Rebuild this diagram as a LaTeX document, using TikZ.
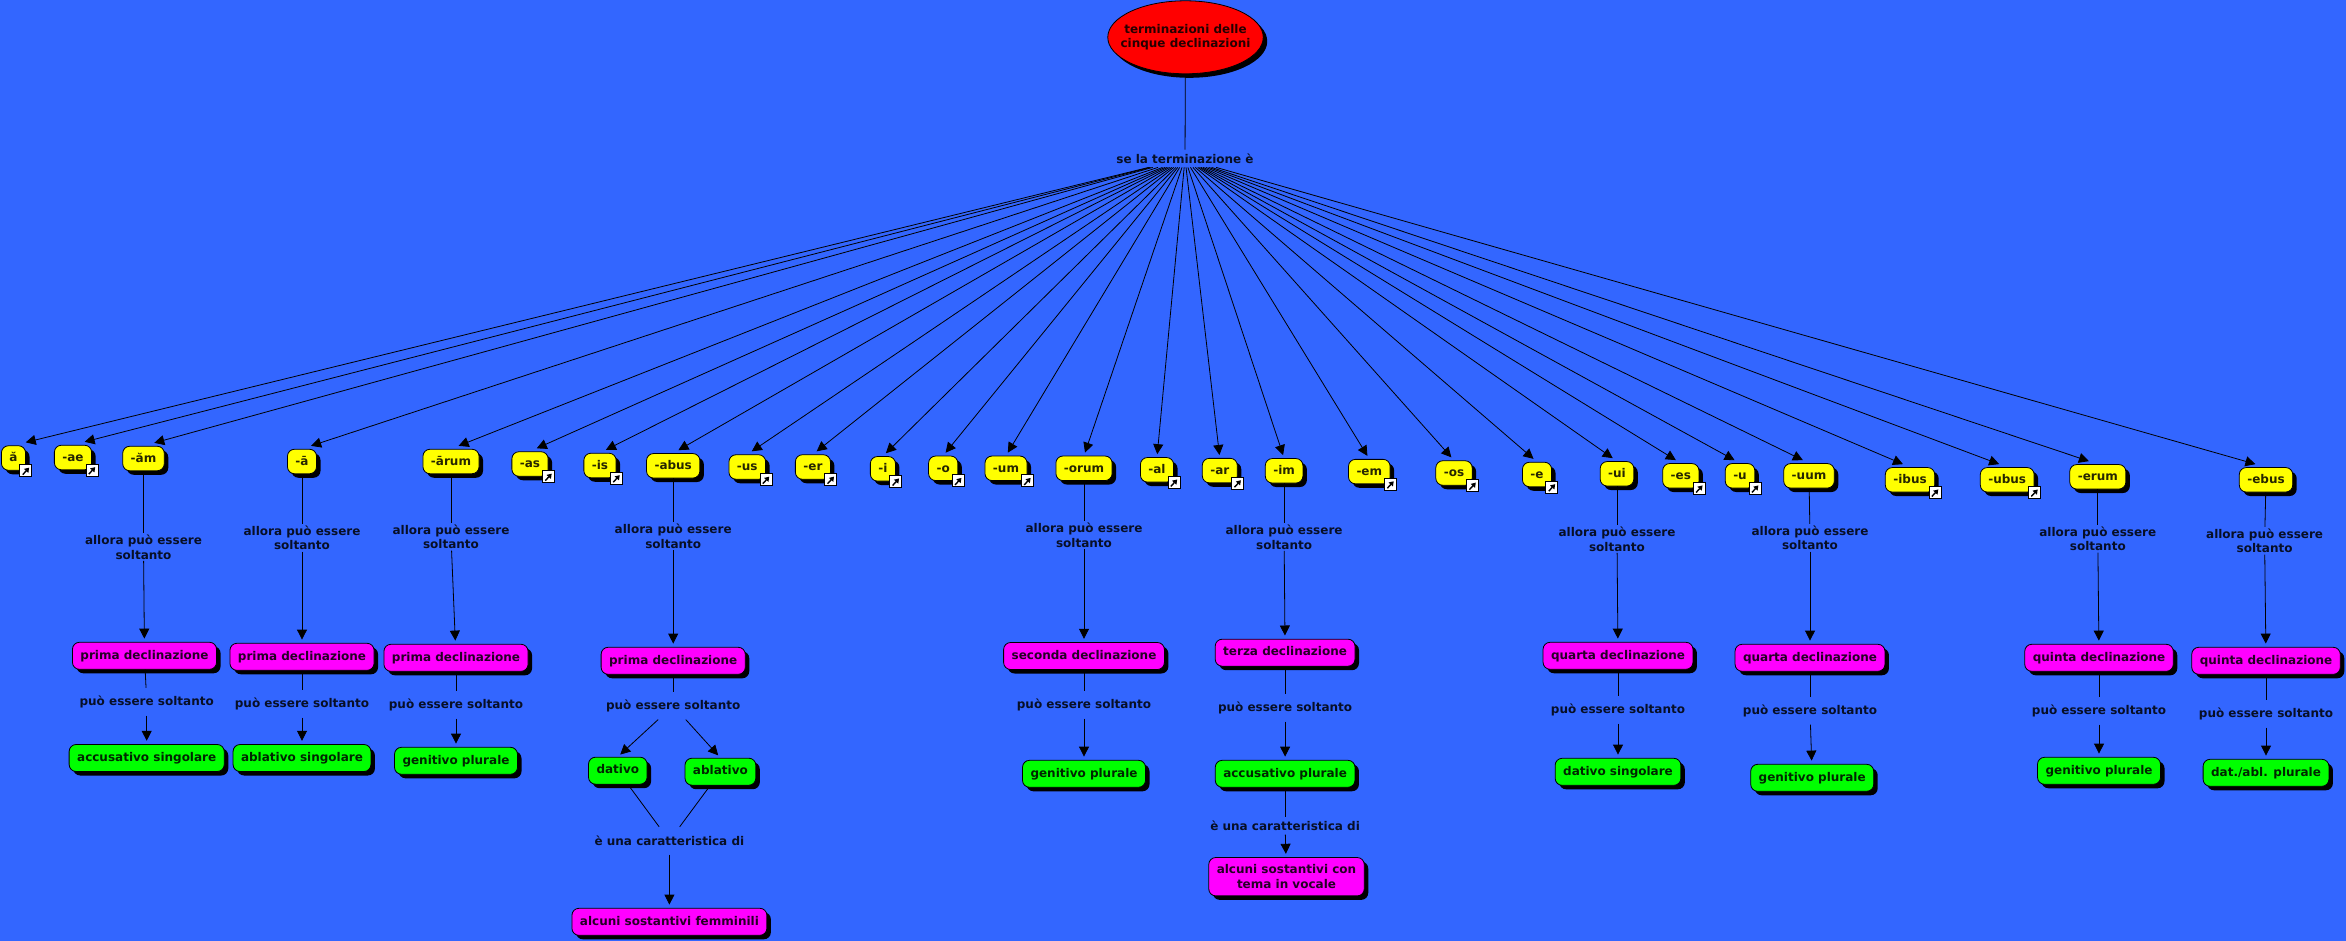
\documentclass[tikz,border=0pt]{standalone}
\usepackage{fontspec}
\setmainfont{DejaVu Sans}
\usepackage{tikz}
\usetikzlibrary{shapes.geometric, arrows.meta, positioning, shadows}
\definecolor{mapblue}{HTML}{3366FF}
\definecolor{mapred}{HTML}{FF0000}
\definecolor{mapyellow}{HTML}{FFFF00}
\definecolor{mapmagenta}{HTML}{FF00FF}
\definecolor{mapgreen}{HTML}{00FF00}

\begin{document}
\begin{tikzpicture}[
    x=0.5pt, y=0.5pt,
    txt/.style={font=\fontsize{6}{7.35}\selectfont\bfseries, align=center, text opacity=0.85},
    shade3/.style={drop shadow={shadow xshift=2pt, shadow yshift=-2pt, fill=black, opacity=1}},
    cbox/.style={txt, rectangle, rounded corners=3.5pt, draw=black, line width=0.4pt, inner xsep=4pt, inner ysep=0pt, shade3},
    title/.style={txt, ellipse, draw=black, line width=0.4pt, fill=mapred, minimum width=77pt, minimum height=36.5pt, inner xsep=-5pt, inner ysep=0pt, shade3},
    term/.style={cbox, fill=mapyellow, minimum height=12.25pt, text height=4.4pt, text depth=0.6pt},
    decl/.style={cbox, fill=mapmagenta, minimum height=13.5pt, text height=4.4pt, text depth=1.2pt},
    caso/.style={cbox, fill=mapgreen, minimum height=13.5pt, text height=4.4pt, text depth=1.2pt},
    link/.style={txt, inner xsep=1pt, inner ysep=0pt, minimum height=13.5pt},
    linkbox/.style={rectangle, draw=black, line width=0.5pt, fill=white, minimum size=6pt, inner sep=0pt,
        path picture={\draw [line width=0.7pt, -{Triangle[length=2.2pt, width=2.8pt]}]
            ([xshift=-1.6pt, yshift=-2pt]path picture bounding box.center) -- ++(6.4,7);}},
    plain/.style={draw=black, line width=0.4pt},
    rel/.style={plain, shorten >=1.65pt, -{Triangle[length=5pt, width=5pt]}},
    fan/.style={plain, shorten >=#1, -{Triangle[length=5pt, width=5pt]}}
]
    \useasboundingbox (0,0) rectangle (2346,-941);
    \fill [mapblue] (0,0) rectangle (2346,-941);

    \node [title] (top) at (1185.5,-37.3) {terminazioni delle\\cinque declinazioni};
    \node [link, minimum height=8.5pt] (se) at (1185,-158.5) {se la terminazione è};

    \node [term] (a) at (13.5,-458) {ă};
    \node [term] (ae) at (73,-457.5) {-ae};
    \node [term] (am) at (143.5,-458.5) {-ăm};
    \node [term] (aa) at (302,-461.5) {-ā};
    \node [term] (arum) at (451,-461.5) {-ārum};
    \node [term] (as) at (530,-464) {-as};
    \node [term] (is) at (600,-465.5) {-is};
    \node [term] (abus) at (673.2,-465.8) {-abus};
    \node [term] (us) at (747.3,-467) {-us};
    \node [term] (er) at (812.9,-467) {-er};
    \node [term] (i) at (882.9,-468.8) {-i};
    \node [term] (o) at (943.2,-468.3) {-o};
    \node [term] (um) at (1006,-468.3) {-um};
    \node [term] (orum) at (1084,-468.3) {-orum};
    \node [term] (al) at (1157,-469.8) {-al};
    \node [term] (ar) at (1219.8,-470.6) {-ar};
    \node [term] (im) at (1284.1,-470.8) {-im};
    \node [term] (em) at (1369.3,-471.6) {-em};
    \node [term] (os) at (1454,-473) {-os};
    \node [term] (e) at (1537,-474.5) {-e};
    \node [term] (ui) at (1617,-473.8) {-ui};
    \node [term] (es) at (1680.8,-475.8) {-es};
    \node [term] (u) at (1740,-475.8) {-u};
    \node [term] (uum) at (1809,-475.8) {-uum};
    \node [term] (ibus) at (1910,-479.8) {-ibus};
    \node [term] (ubus) at (2007.2,-479.8) {-ubus};
    \node [term] (erum) at (2097.8,-476.8) {-erum};
    \node [term] (ebus) at (2266,-479.8) {-ebus};

    \node [linkbox] (aln) at (a.south east) {};
    \node [linkbox] (aeln) at (ae.south east) {};
    \node [linkbox] (asln) at (as.south east) {};
    \node [linkbox] (isln) at (is.south east) {};
    \node [linkbox] (usln) at (us.south east) {};
    \node [linkbox] (erln) at (er.south east) {};
    \node [linkbox] (iln) at (i.south east) {};
    \node [linkbox] (oln) at (o.south east) {};
    \node [linkbox] (umln) at (um.south east) {};
    \node [linkbox] (alln) at (al.south east) {};
    \node [linkbox] (arln) at (ar.south east) {};
    \node [linkbox] (emln) at (em.south east) {};
    \node [linkbox] (osln) at (os.south east) {};
    \node [linkbox] (eln) at (e.south east) {};
    \node [linkbox] (esln) at (es.south east) {};
    \node [linkbox] (uln) at (u.south east) {};
    \node [linkbox] (ibusln) at (ibus.south east) {};
    \node [linkbox] (ubusln) at (ubus.south east) {};

    \node [link, below of=am, node distance=44.25pt] (amif) {allora può essere\\soltanto};
    \node [decl, below of=amif, node distance=54.4pt, xshift=0.5pt] (amdecl) {prima declinazione};
    \node [link, below of=amdecl, node distance=22.95pt, xshift=1.1pt] (amsolo) {può essere soltanto};
    \node [caso, below of=amsolo, node distance=28.15pt] (amcaso) {accusativo singolare};

    \node [link, below of=aa, node distance=38.15pt] (aaif) {allora può essere\\soltanto};
    \node [decl, below of=aaif, node distance=59.5pt] (aadecl) {prima declinazione};
    \node [link, below of=aadecl, node distance=23.45pt] (aasolo) {può essere soltanto};
    \node [caso, below of=aasolo, node distance=27.15pt] (aacaso) {ablativo singolare};

    \node [link, below of=arum, node distance=37.65pt] (arumif) {allora può essere\\soltanto};
    \node [decl, below of=arumif, node distance=60.5pt, xshift=2.5pt] (arumdecl) {prima declinazione};
    \node [link, below of=arumdecl, node distance=23.45pt] (arumsolo) {può essere soltanto};
    \node [caso, below of=arumsolo, node distance=28.05pt] (arumcaso) {genitivo plurale};

    \node [link, below of=abus, node distance=35.1pt] (abusif) {allora può essere\\soltanto};
    \node [decl, below of=abusif, node distance=62.4pt] (abusdecl) {prima declinazione};
    \node [link, below of=abusdecl, node distance=22.45pt] (abussolo) {può essere soltanto};
    \node [caso, below of=abussolo, node distance=32.5pt, xshift=-27.7pt] (dat) {dativo};
    \node [caso, right of=dat, node distance=51.3pt, yshift=-0.5pt] (abl) {ablativo};
    \node [link, below of=abussolo, node distance=67.5pt, xshift=-1.9pt] (abuscar) {è una caratteristica di};
    \node [decl, below of=abuscar, node distance=40.55pt] (femm) {alcuni sostantivi femminili};

    \node [link, below of=orum, node distance=33.35pt] (orumif) {allora può essere\\soltanto};
    \node [decl, below of=orumif, node distance=60.5pt] (orumdecl) {seconda declinazione};
    \node [link, below of=orumdecl, node distance=24.35pt] (orumsolo) {può essere soltanto};
    \node [caso, below of=orumsolo, node distance=34.55pt] (orumcaso) {genitivo plurale};

    \node [link, below of=im, node distance=33.1pt] (imif) {allora può essere\\soltanto};
    \node [decl, below of=imif, node distance=57.85pt, xshift=0.5pt] (imdecl) {terza declinazione};
    \node [link, below of=imdecl, node distance=27.5pt] (imsolo) {può essere soltanto};
    \node [caso, below of=imsolo, node distance=33.05pt] (imcaso) {accusativo plurale};
    \node [link, below of=imcaso, node distance=25.95pt, minimum height=8.5pt] (imcar) {è una caratteristica di};
    \node [decl, below of=imcar, node distance=25.5pt, xshift=0.7pt, text height=, text depth=, inner ysep=3.6pt] (imvoc) {alcuni sostantivi con\\tema in vocale};

    \node [link, below of=ui, node distance=32.6pt] (uiif) {allora può essere\\soltanto};
    \node [decl, below of=uiif, node distance=58.4pt, xshift=0.5pt] (uidecl) {quarta declinazione};
    \node [link, below of=uidecl, node distance=26.95pt] (uisolo) {può essere soltanto};
    \node [caso, below of=uisolo, node distance=31.05pt] (uicaso) {dativo singolare};

    \node [link, below of=uum, node distance=31pt, xshift=0.5pt] (uumif) {allora può essere\\soltanto};
    \node [decl, below of=uumif, node distance=60pt] (uumdecl) {quarta declinazione};
    \node [link, below of=uumdecl, node distance=26.45pt] (uumsolo) {può essere soltanto};
    \node [caso, below of=uumsolo, node distance=33.55pt, xshift=1.1pt] (uumcaso) {genitivo plurale};

    \node [link, below of=erum, node distance=31pt] (erumif) {allora può essere\\soltanto};
    \node [decl, below of=erumif, node distance=59.5pt, xshift=0.6pt] (erumdecl) {quinta declinazione};
    \node [link, below of=erumdecl, node distance=26.45pt] (erumsolo) {può essere soltanto};
    \node [caso, below of=erumsolo, node distance=30.05pt] (erumcaso) {genitivo plurale};

    \node [link, below of=ebus, node distance=30.5pt, xshift=-0.7pt] (ebusif) {allora può essere\\soltanto};
    \node [decl, below of=ebusif, node distance=60pt, xshift=0.7pt] (ebusdecl) {quinta declinazione};
    \node [link, below of=ebusdecl, node distance=26.45pt] (ebussolo) {può essere soltanto};
    \node [caso, below of=ebussolo, node distance=29.55pt] (ebuscaso) {dat./abl. plurale};

    \draw [plain] (top) -- (se);

    \draw [fan=6.3pt] (se) -- (a.north);
    \draw [fan=6pt] (se) -- (ae.north);
    \draw [fan=5.6pt] (se) -- (am.north);
    \draw [fan=4.8pt] (se) -- (aa.north);
    \draw [fan=4.1pt] (se) -- (arum.north);
    \draw [fan=3.7pt] (se) -- (as.north);
    \draw [fan=3.3pt] (se) -- (is.north);
    \draw [fan=3pt] (se) -- (abus.north);
    \draw [fan=2.7pt] (se) -- (us.north);
    \draw [fan=2.4pt] (se) -- (er.north);
    \draw [fan=2.1pt] (se) -- (i.north);
    \draw [fan=1.9pt] (se) -- (o.north);
    \draw [fan=1.75pt] (se) -- (um.north);
    \draw [fan=1.6pt] (se) -- (orum.north);
    \draw [fan=1.5pt] (se) -- (al.north);
    \draw [fan=1.5pt] (se) -- (ar.north);
    \draw [fan=1.6pt] (se) -- (im.north);
    \draw [fan=1.8pt] (se) -- (em.north);
    \draw [fan=2pt] (se) -- (os.north);
    \draw [fan=2.3pt] (se) -- (e.north);
    \draw [fan=2.6pt] (se) -- (ui.north);
    \draw [fan=2.9pt] (se) -- (es.north);
    \draw [fan=3.1pt] (se) -- (u.north);
    \draw [fan=3.4pt] (se) -- (uum.north);
    \draw [fan=3.8pt] (se) -- (ibus.north);
    \draw [fan=4.3pt] (se) -- (ubus.north);
    \draw [fan=4.7pt] (se) -- (erum.north);
    \draw [fan=5.5pt] (se) -- (ebus.north);

    \draw [plain] (am) -- (amif);
    \draw [rel] (amif) -- (amdecl);
    \draw [plain] (amdecl) -- (amsolo);
    \draw [rel] (amsolo) -- (amcaso);

    \draw [plain] (aa) -- (aaif);
    \draw [rel] (aaif) -- (aadecl);
    \draw [plain] (aadecl) -- (aasolo);
    \draw [rel] (aasolo) -- (aacaso);

    \draw [plain] (arum) -- (arumif);
    \draw [rel] (arumif) -- (arumdecl);
    \draw [plain] (arumdecl) -- (arumsolo);
    \draw [rel] (arumsolo) -- (arumcaso);

    \draw [plain] (abus) -- (abusif);
    \draw [rel] (abusif) -- (abusdecl);
    \draw [plain] (abusdecl) -- (abussolo);
    \draw [rel] (abussolo) -- (dat.north);
    \draw [rel] (abussolo) -- (abl.north);
    \draw [plain] (dat) -- (abuscar);
    \draw [plain] (abl) -- (abuscar);
    \draw [rel] (abuscar) -- (femm);

    \draw [plain] (orum) -- (orumif);
    \draw [rel] (orumif) -- (orumdecl);
    \draw [plain] (orumdecl) -- (orumsolo);
    \draw [rel] (orumsolo) -- (orumcaso);

    \draw [plain] (im) -- (imif);
    \draw [rel] (imif) -- (imdecl);
    \draw [plain] (imdecl) -- (imsolo);
    \draw [rel] (imsolo) -- (imcaso);
    \draw [plain] (imcaso) -- (imcar);
    \draw [rel] (imcar) -- (imvoc);

    \draw [plain] (ui) -- (uiif);
    \draw [rel] (uiif) -- (uidecl);
    \draw [plain] (uidecl) -- (uisolo);
    \draw [rel] (uisolo) -- (uicaso);

    \draw [plain] (uum) -- (uumif);
    \draw [rel] (uumif) -- (uumdecl);
    \draw [plain] (uumdecl) -- (uumsolo);
    \draw [rel] (uumsolo) -- (uumcaso);

    \draw [plain] (erum) -- (erumif);
    \draw [rel] (erumif) -- (erumdecl);
    \draw [plain] (erumdecl) -- (erumsolo);
    \draw [rel] (erumsolo) -- (erumcaso);

    \draw [plain] (ebus) -- (ebusif);
    \draw [rel] (ebusif) -- (ebusdecl);
    \draw [plain] (ebusdecl) -- (ebussolo);
    \draw [rel] (ebussolo) -- (ebuscaso);
\end{tikzpicture}
\end{document}
